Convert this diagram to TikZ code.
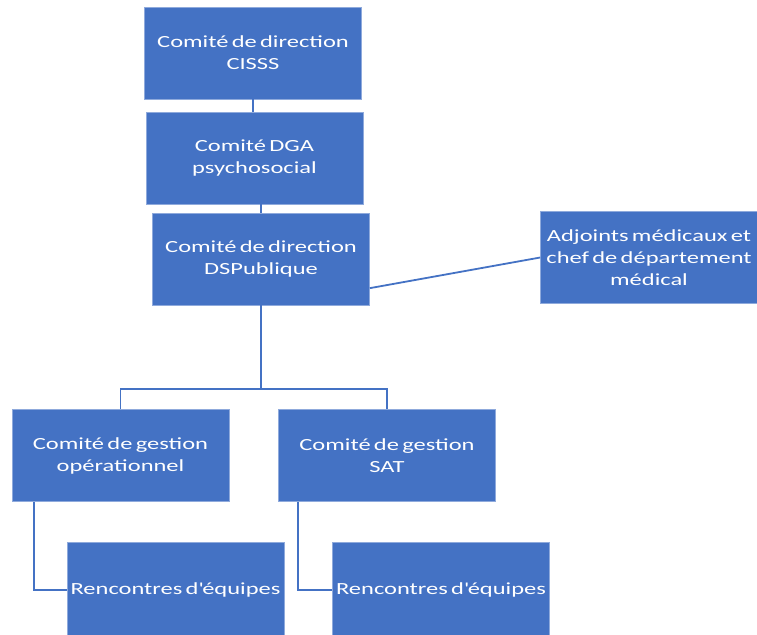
\documentclass[tikz,border=0pt]{standalone}
\usepackage{fontspec}
\setmainfont{Carlito}[FakeStretch=1.44, WordSpace=0.6]
\usepackage{tikz}

\definecolor{boxblue}{HTML}{4472C4}
\definecolor{edgeblue}{HTML}{8FAADC}

\tikzset{
  box/.style={fill=boxblue, draw=edgeblue, line width=0.6pt, text=white,
    align=center, inner sep=0pt, minimum width=217pt, minimum height=92pt,
    font=\fontsize{17}{22}\selectfont},
  link/.style={draw=boxblue, line width=1.8pt}
}

\begin{document}
\begin{tikzpicture}[x=1pt, y=-1pt]
        \useasboundingbox (0,0) rectangle (757,634);
        % top chain
        \node (cisss) at (253,53) [box] {Comité de direction\\CISSS};
        \node (dga) at (254.5,158) [box] {Comité DGA\\psychosocial};
        \node (dsp) at (261,259) [box] {Comité de direction\\DSPublique};
        \node (adj) at (649,257.5) [box] {Adjoints médicaux et\\chef de département\\médical};
        % management committees
        \node (opr) at (120.5,455.5) [box] {Comité de gestion\\opérationnel};
        \node (sat) at (387,455.5) [box] {Comité de gestion\\SAT};
        \node (ren1) at (175.5,590) [box, minimum height=96pt] {Rencontres d\textquotesingle équipes};
        \node (ren2) at (441,590) [box, minimum height=96pt] {Rencontres d\textquotesingle équipes};
        \coordinate (split) at (261,389);
        \draw [link] (cisss.south) -- (cisss.south |- dga.north);
        \draw [link] (dsp.north) -- (dsp.north |- dga.south);
        \draw [link] (dsp.-15) -- (adj.west);
        \draw [link] (dsp.south) -- (split);
        \draw [link] (opr.north) |- (split) -| (sat.north);
        \draw [link] ([xshift=22pt]opr.south west) |- (ren1.west);
        \draw [link] ([xshift=20pt]sat.south west) |- (ren2.west);
    \end{tikzpicture}
\end{document}
